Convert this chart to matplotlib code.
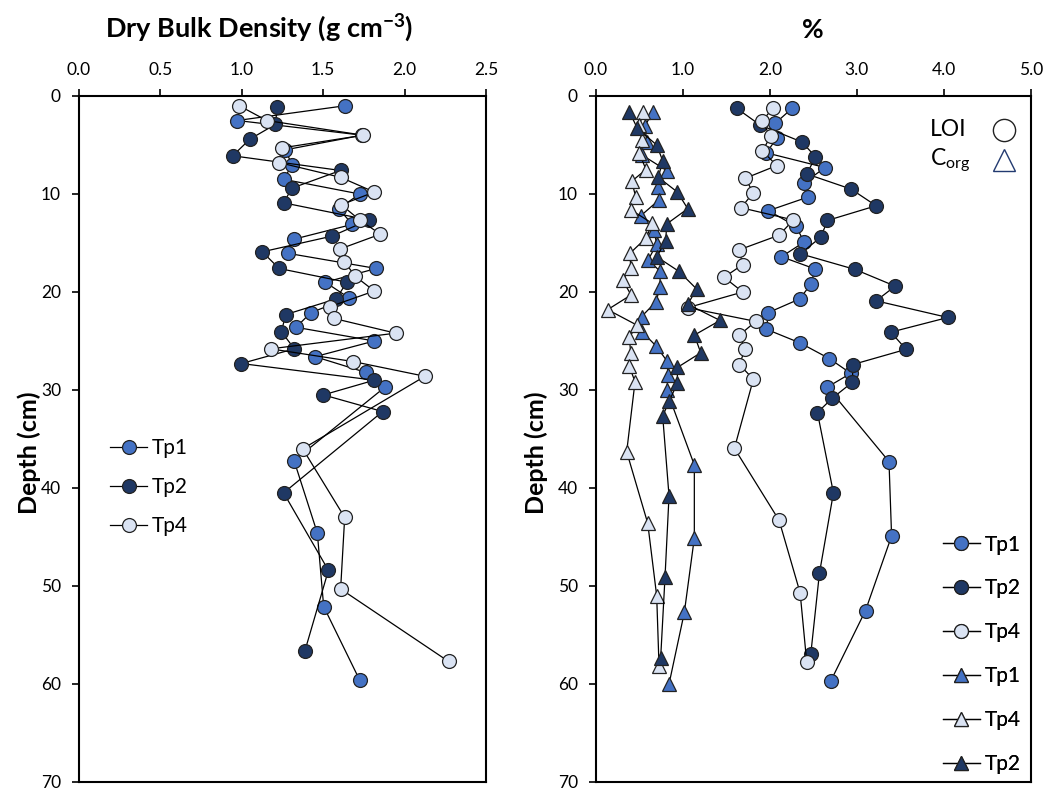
import matplotlib
matplotlib.use("Agg")
import matplotlib.pyplot as plt
from matplotlib.lines import Line2D

plt.rcParams['font.family'] = ['Lato', 'DejaVu Sans']
plt.rcParams['mathtext.fontset'] = 'custom'
plt.rcParams['mathtext.rm'] = 'Lato'
plt.rcParams['mathtext.it'] = 'Lato:italic'
plt.rcParams['mathtext.bf'] = 'Lato:bold'

# ---------------- Dry bulk density (left panel) ----------------
dbd_tp1_depth = [1.0, 2.5, 4.0, 5.5, 7.0, 8.5, 10.0, 11.5, 13.1, 14.6, 16.05, 17.6, 19.0, 20.6,
                 22.1, 23.6, 25.0, 26.6, 28.2, 29.7, 37.2, 44.6, 52.1, 59.6]
dbd_tp1 = [1.632, 0.972, 1.74, 1.265, 1.310, 1.257, 1.724, 1.595, 1.679, 1.323, 1.282, 1.826, 1.513, 1.658,
           1.425, 1.333, 1.814, 1.450, 1.761, 1.880, 1.321, 1.464, 1.503, 1.724]

dbd_tp2_depth = [1.15, 2.9, 4.4, 6.1, 7.6, 9.4, 10.9, 12.65, 14.3, 15.9, 17.6, 19.0, 20.7, 22.3,
                 24.05, 25.8, 27.3, 29.0, 30.5, 32.2, 40.5, 48.4, 56.6]
dbd_tp2 = [1.218, 1.206, 1.050, 0.944, 1.607, 1.308, 1.257, 1.779, 1.554, 1.126, 1.229, 1.644, 1.581, 1.270,
           1.243, 1.323, 0.997, 1.814, 1.501, 1.865, 1.257, 1.532, 1.388]

dbd_tp4_depth = [1.0, 2.5, 4.0, 5.3, 6.8, 8.3, 9.8, 11.1, 12.65, 14.1, 15.6, 16.9, 18.4, 19.9,
                 21.5, 22.7, 24.2, 25.8, 27.1, 28.6, 36.0, 43.0, 50.3, 57.7]
dbd_tp4 = [0.985, 1.153, 1.746, 1.245, 1.230, 1.607, 1.814, 1.611, 1.724, 1.851, 1.605, 1.630, 1.697, 1.814,
           1.540, 1.566, 1.945, 1.177, 1.685, 2.125, 1.374, 1.632, 1.607, 2.27]

# ---------------- LOI (%) circles (right panel) ----------------
loi_tp1_depth = [1.26, 2.8, 4.3, 5.8, 7.3, 8.85, 10.3, 11.7, 13.3, 14.9, 16.4, 17.65, 19.2, 20.7,
                 22.1, 23.8, 25.2, 26.8, 28.3, 29.7, 37.3, 44.9, 52.5, 59.7]
loi_tp1 = [2.255, 2.06, 2.079, 1.96, 2.635, 2.394, 2.443, 1.983, 2.301, 2.394, 2.133, 2.520, 2.471, 2.344,
           1.983, 1.96, 2.348, 2.685, 2.93, 2.662, 3.37, 3.40, 3.10, 2.70]

loi_tp2_depth = [1.26, 2.96, 4.7, 6.2, 7.96, 9.5, 11.2, 12.7, 14.4, 16.1, 17.7, 19.4, 20.9, 22.6,
                 24.1, 25.85, 27.4, 29.2, 30.85, 32.3, 40.5, 48.7, 56.9]
loi_tp2 = [1.619, 1.887, 2.370, 2.524, 2.425, 2.934, 3.222, 2.662, 2.586, 2.351, 2.980, 3.441, 3.222, 4.047,
           3.391, 3.567, 2.954, 2.95, 2.716, 2.547, 2.731, 2.570, 2.471]

loi_tp4_depth = [1.26, 2.6, 4.1, 5.6, 7.1, 8.4, 9.86, 11.4, 12.65, 14.2, 15.7, 17.2, 18.5, 20.0,
                 21.6, 23.0, 24.4, 25.85, 27.4, 28.9, 35.95, 43.3, 50.7, 57.8]
loi_tp4 = [2.033, 1.906, 2.010, 1.914, 2.079, 1.715, 1.810, 1.669, 2.270, 2.106, 1.646, 1.688, 1.473, 1.688,
           1.055, 1.838, 1.649, 1.715, 1.649, 1.810, 1.592, 2.106, 2.348, 2.424]

# ---------------- Corg (%) triangles (right panel) ----------------
corg_tp1_depth = [1.6, 3.06, 4.66, 6.0, 7.65, 9.3, 10.6, 12.2, 13.7, 15.1, 16.7, 17.9, 19.5, 21.0,
                  22.5, 24.05, 25.5, 27.0, 28.5, 30.0, 37.65, 45.1, 52.7, 60.0]
corg_tp1 = [0.652, 0.564, 0.583, 0.525, 0.821, 0.710, 0.725, 0.518, 0.667, 0.698, 0.602, 0.737, 0.737, 0.690,
            0.525, 0.529, 0.690, 0.813, 0.83, 0.813, 1.131, 1.131, 1.016, 0.840]

corg_tp4_depth = [1.6, 3.0, 4.5, 5.85, 7.5, 8.7, 10.3, 11.6, 13.0, 14.5, 16.05, 17.5, 18.8, 20.3,
                  21.8, 23.4, 24.6, 26.2, 27.6, 29.15, 36.3, 43.6, 51.0, 58.2]
corg_tp4 = [0.545, 0.50, 0.525, 0.499, 0.575, 0.411, 0.457, 0.399, 0.648, 0.575, 0.391, 0.399, 0.307, 0.403,
            0.134, 0.475, 0.383, 0.399, 0.383, 0.449, 0.353, 0.595, 0.698, 0.725]

corg_tp2_depth = [1.6, 3.3, 5.0, 6.6, 8.3, 9.8, 11.5, 13.06, 14.8, 16.4, 17.9, 19.7, 21.25, 22.9,
                  24.4, 26.2, 27.7, 29.3, 31.1, 32.65, 40.8, 49.05, 57.3]
corg_tp2 = [0.383, 0.476, 0.698, 0.767, 0.717, 0.936, 1.055, 0.813, 0.802, 0.698, 0.955, 1.158, 1.055, 1.427,
            1.131, 1.205, 0.936, 0.936, 0.844, 0.767, 0.840, 0.794, 0.744]

left_xticks = [0.0, 0.5, 1.0, 1.5, 2.0, 2.5]
right_xticks = [0.0, 1.0, 2.0, 3.0, 4.0, 5.0]
yticks = [0, 10, 20, 30, 40, 50, 60, 70]

C_TP1 = '#4472C4'
C_TP2 = '#1F3864'
C_TP4 = '#DAE3F3'
EDGE = '#222222'

fig = plt.figure(figsize=(10.53, 7.9), dpi=100)
axL = fig.add_axes([79 / 1053, 8 / 790, 407 / 1053, 686 / 790])
axR = fig.add_axes([596 / 1053, 8 / 790, 434.7 / 1053, 686 / 790])


def series(ax, x, d, color, marker, label, ms):
    ax.plot(x, d, color='black', lw=0.9, marker=marker, markersize=ms,
            markerfacecolor=color, markeredgecolor=EDGE, markeredgewidth=0.9, label=label)


series(axL, dbd_tp1, dbd_tp1_depth, C_TP1, 'o', 'Tp1', 10)
series(axL, dbd_tp2, dbd_tp2_depth, C_TP2, 'o', 'Tp2', 10)
series(axL, dbd_tp4, dbd_tp4_depth, C_TP4, 'o', 'Tp4', 10)

series(axR, loi_tp1, loi_tp1_depth, C_TP1, 'o', 'Tp1', 10)
series(axR, loi_tp2, loi_tp2_depth, C_TP2, 'o', 'Tp2', 10)
series(axR, loi_tp4, loi_tp4_depth, C_TP4, 'o', 'Tp4', 10)
series(axR, corg_tp1, corg_tp1_depth, C_TP1, '^', 'Tp1', 10)
series(axR, corg_tp4, corg_tp4_depth, C_TP4, '^', 'Tp4', 10)
series(axR, corg_tp2, corg_tp2_depth, C_TP2, '^', 'Tp2', 10)

for ax, xt, xl, fmt in [(axL, left_xticks, (0, 2.5), '{:.1f}'), (axR, right_xticks, (0, 5), '{:.1f}')]:
    ax.set_xlim(*xl)
    ax.set_ylim(70, 0)
    ax.xaxis.tick_top()
    ax.set_xticks(xt)
    ax.set_xticklabels([fmt.format(v) for v in xt])
    ax.set_yticks(yticks)
    ax.tick_params(axis='both', labelsize=12.5, direction='out', length=5, width=1.2, colors='black')
    ax.tick_params(axis='x', pad=8)
    ax.tick_params(axis='y', pad=8)
    for s in ax.spines.values():
        s.set_linewidth(1.5)
    ax.set_ylabel('Depth (cm)', fontsize=18, fontweight='bold', labelpad=4)

axL.yaxis.set_label_coords(-0.094, 0.48)
axR.yaxis.set_label_coords(-0.110, 0.48)

fig.text(259 / 1053, 1 - 28 / 790, 'Dry Bulk Density (g cm$^{\\mathbf{-3}}$)', ha='center', va='center',
         fontsize=19.5, fontweight='bold')
fig.text(813 / 1053, 1 - 30 / 790, '%', ha='center', va='center', fontsize=19, fontweight='bold')

axL.legend(loc='center left', bbox_to_anchor=(0.03, 0.43), frameon=False, fontsize=15,
           handlelength=1.8, labelspacing=0.92, handletextpad=0.2)

leg1 = axR.legend(loc='lower right', bbox_to_anchor=(1.0, -0.004), frameon=False, fontsize=15,
                  handlelength=1.8, labelspacing=1.15, handletextpad=0.2, borderaxespad=0.1)
axR.add_artist(leg1)

# LOI / Corg symbol key (text on the left, open marker on the right)
axR.text(0.768, 0.951, 'LOI', transform=axR.transAxes, ha='left', va='center', fontsize=16.5)
axR.text(0.768, 0.906, 'C$_{\\mathrm{org}}$', transform=axR.transAxes, ha='left', va='center', fontsize=16.5)
axR.plot([0.939], [0.951], transform=axR.transAxes, ls='none', marker='o', markersize=16,
         markerfacecolor='white', markeredgecolor='#222222', markeredgewidth=1.0, clip_on=False)
axR.plot([0.939], [0.907], transform=axR.transAxes, ls='none', marker='^', markersize=16,
         markerfacecolor='white', markeredgecolor='#223a70', markeredgewidth=1.0, clip_on=False)

fig.savefig('out.png', dpi=100)
